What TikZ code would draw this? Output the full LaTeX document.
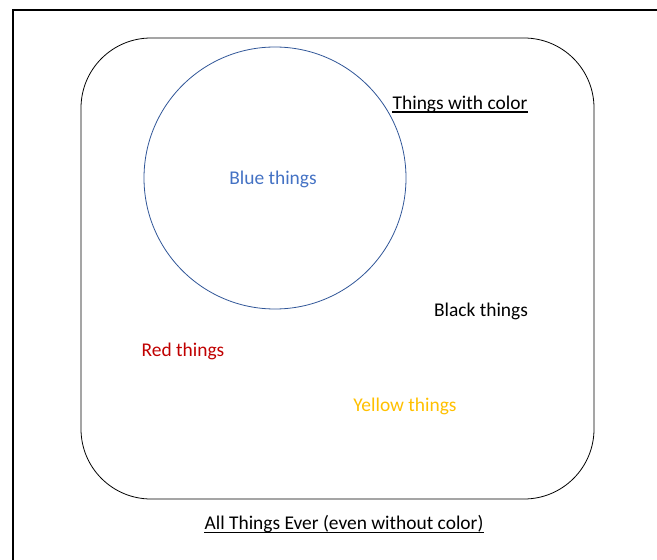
\documentclass[tikz,border=0pt]{standalone}
\usepackage{fontspec}
\setmainfont{Carlito}
\definecolor{ublue}{HTML}{4472C4}
\definecolor{setblue}{HTML}{2F5597}
\definecolor{ured}{HTML}{C00000}
\definecolor{uyellow}{HTML}{FFC000}
\begin{document}
\begin{tikzpicture}[x=1bp,y=-1bp,
  lbl/.style={font=\fontsize{19.5}{23}\selectfont, inner sep=0pt, anchor=center},
  underrule/.style={line width=1.4bp}]
\useasboundingbox (0,0) rectangle (657,560);
% page frame (left and top edges)
\draw[line width=2bp] (13,560) -- (13,10) -- (657,10);
% universe
\draw[line width=0.8bp, rounded corners=70bp] (81,38) rectangle (594,499);
% blue set
\draw[setblue, line width=0.8bp] (275,178) ellipse [x radius=131, y radius=131];
% labels
\node[lbl] (color) at (460,104) {Things with color};
\node[lbl, text=ublue] (blue) at (273,179) {Blue things};
\node[lbl] (black) at (481,311) {Black things};
\node[lbl, text=ured] (red) at (183,351) {Red things};
\node[lbl, text=uyellow] (yellow) at (405,406) {Yellow things};
\node[lbl] (all) at (344,524) {All Things Ever (even without color)};
% underlines of the two set titles
\draw[underrule] ([yshift=-3bp]color.base west) -- ([yshift=-3bp]color.base east);
\draw[underrule] ([yshift=-3bp]all.base west) -- ([yshift=-3bp]all.base east);
\end{tikzpicture}
\end{document}
